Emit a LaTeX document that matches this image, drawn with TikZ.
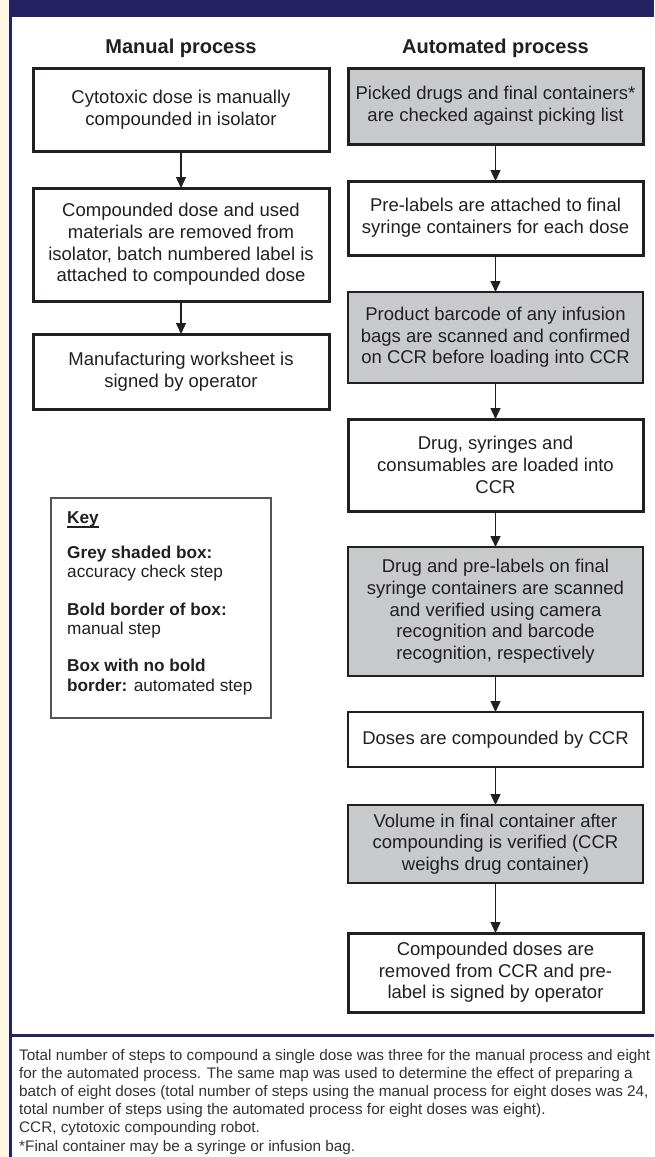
\documentclass[tikz,border=0pt]{standalone}
\usepackage{fontspec}
\setmainfont{Liberation Sans}
\usetikzlibrary{arrows.meta}
\definecolor{navy}{HTML}{262262}
\definecolor{cream}{HTML}{FEF7E1}
\definecolor{boxgrey}{HTML}{C8C9CA}
\definecolor{ink}{HTML}{231F20}
\definecolor{keygrey}{HTML}{555555}
\definecolor{foottext}{HTML}{333333}
\tikzset{
  stepbox/.style={draw=ink, line width=1.3pt, fill=white, minimum width=295pt,
    inner sep=0pt, outer sep=0pt, align=center, text=ink,
    font=\fontsize{18.5}{21.7}\selectfont},
  manualstep/.style={line width=3pt},
  checkstep/.style={fill=boxgrey},
  heading/.style={text=ink, font=\fontsize{20}{24}\selectfont\bfseries, inner sep=0pt},
  keytext/.style={text=ink, font=\fontsize{17.2}{19.3}\selectfont, inner sep=0pt, align=left},
  foot/.style={text=foottext, font=\fontsize{15.3}{18.2}\selectfont, inner sep=0pt, align=left},
  flow/.style={draw=ink, line width=1.3pt, -{Triangle[width=10pt,length=11pt]}},
}
\begin{document}
\begin{tikzpicture}[x=1pt,y=-1pt]
\useasboundingbox (0,0) rectangle (654,1157);
% frame
\fill[white] (0,0) rectangle (654,1157);
\fill[cream] (0,0) rectangle (9,1157);
\fill[navy] (9,0) rectangle (654,17);
\fill[navy] (9,0) rectangle (11.5,1157);
\fill[navy] (9,1034) rectangle (654,1036.5);

% headings
\node[heading] (hman) at (181,48) {Manual process};
\node[heading] (hauto) at (495.5,48) {Automated process};

% manual column
\node[stepbox, manualstep, minimum width=296pt, minimum height=83pt] (l1) at (181,109.5)
  {Cytotoxic dose is manually\\compounded in isolator};
\node[stepbox, manualstep, minimum width=296pt, minimum height=113pt] (l2) at (181,244.5)
  {Compounded dose and used\\materials are removed from\\isolator, batch numbered label is\\attached to compounded dose};
\node[stepbox, manualstep, minimum width=296pt, minimum height=75pt] (l3) at (181,371.5)
  {Manufacturing worksheet is\\signed by operator};

% automated column
\node[stepbox, manualstep, checkstep, minimum height=76pt] (r1) at (495.5,106)
  {Picked drugs and final containers*\\are checked against picking list};
\node[stepbox, manualstep, minimum height=74pt] (r2) at (495.5,218)
  {Pre-labels are attached to final\\syringe containers for each dose};
\node[stepbox, checkstep, minimum height=91pt] (r3) at (495.5,337.5)
  {Product barcode of any infusion\\bags are scanned and confirmed\\on CCR before loading into CCR};
\node[stepbox, manualstep, minimum height=92pt] (r4) at (495.5,465)
  {Drug, syringes and\\consumables are loaded into\\CCR};
\node[stepbox, checkstep, minimum height=129pt] (r5) at (495.5,611.5)
  {Drug and pre-labels on final\\syringe containers are scanned\\and verified using camera\\recognition and barcode\\recognition, respectively};
\node[stepbox, minimum height=55pt] (r6) at (495.5,739.5)
  {Doses are compounded by CCR};
\node[stepbox, checkstep, minimum height=78pt] (r7) at (495.5,844)
  {Volume in final container after\\compounding is verified (CCR\\weighs drug container)};
\node[stepbox, manualstep, minimum height=79pt] (r8) at (495.5,972.5)
  {Compounded doses are\\removed from CCR and pre-\\label is signed by operator};

% connectors
\draw[flow] (l1) -- (l2);
\draw[flow] (l2) -- (l3);
\draw[flow] (r1) -- (r2);
\draw[flow] (r2) -- (r3);
\draw[flow] (r3) -- (r4);
\draw[flow] (r4) -- (r5);
\draw[flow] (r5) -- (r6);
\draw[flow] (r6) -- (r7);
\draw[flow] (r7) -- (r8);

% key
\node[draw=keygrey, line width=1.3pt, minimum width=220pt, minimum height=220pt,
  inner sep=0pt, outer sep=0pt, anchor=north west] (keybox) at (51,498) {};
\node[keytext, anchor=base west] (keyhead) at (67,523) {\bfseries Key};
\draw[ink, line width=2pt] (keyhead.south west) -- (keyhead.south east);
\node[keytext, anchor=base west] (keyitems) at (67,691)
  {\textbf{Grey shaded box:}\\accuracy check step\\[18pt]
   \textbf{Bold border of box:}\\manual step\\[18pt]
   \textbf{Box with no bold}\\\textbf{border:} automated step};

% footnote
\node[foot, anchor=base west] (note) at (19,1151)
  {Total number of steps to compound a single dose was three for the manual process and eight\\
   for the automated process. The same map was used to determine the effect of preparing a\\
   batch of eight doses (total number of steps using the manual process for eight doses was 24,\\
   total number of steps using the automated process for eight doses was eight).\\
   CCR, cytotoxic compounding robot.\\
   *Final container may be a syringe or infusion bag.};
\end{tikzpicture}
\end{document}
